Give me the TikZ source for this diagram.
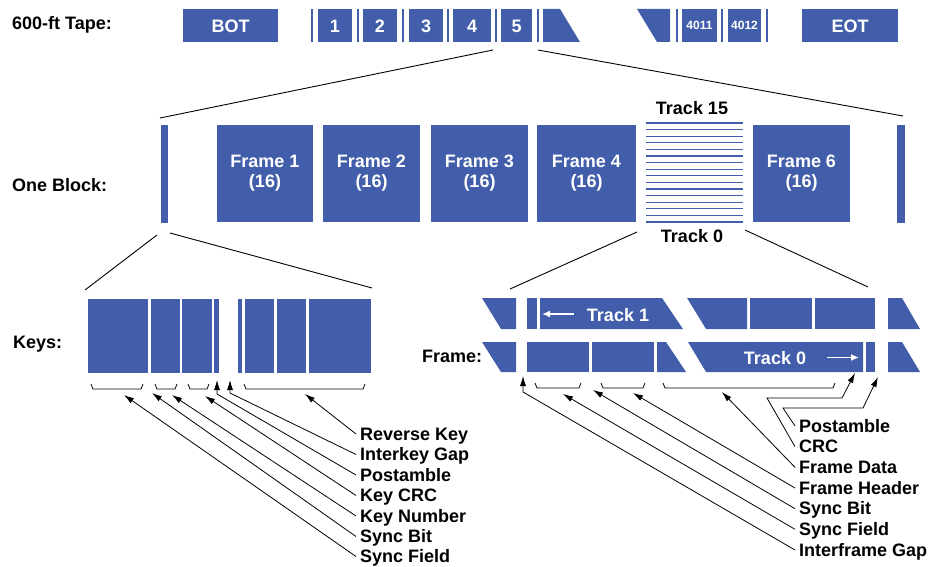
\documentclass[tikz,border=0pt]{standalone}
\usepackage{fontspec}
\setmainfont{Liberation Sans}
\usetikzlibrary{arrows.meta,calc}
\definecolor{tb}{RGB}{66,94,170}
\begin{document}
\begin{tikzpicture}[x=1pt,y=-1pt,
  blk/.style={fill=tb,draw=none},
  vbar/.style={draw=tb,line width=1.4pt},
  lbl/.style={inner sep=0pt,font=\fontsize{18}{21}\selectfont\bfseries,anchor=base west},
  ctxt/.style={inner sep=0pt,font=\fontsize{18}{21}\selectfont\bfseries,anchor=base},
  wtxt/.style={inner sep=0pt,text=white,font=\fontsize{18}{21}\selectfont\bfseries,anchor=base},
  stxt/.style={inner sep=0pt,text=white,font=\fontsize{12}{14}\selectfont\bfseries,anchor=base},
  zoomline/.style={draw=black,line width=0.9pt},
  conn/.style={draw=black,line width=0.8pt,-{Latex[length=10pt,width=6pt]}},
  brk/.style={draw=black,line width=0.8pt},
  trk/.style={draw=tb,line width=1.1pt},
  warr/.style={draw=white,line width=1.8pt,-{Latex[length=8pt,width=7pt]}},
]
\useasboundingbox (0,0) rectangle (931,567);

% ---------------- 600-ft tape row ----------------
\node[lbl] (ltape) at (12,30) {600-ft Tape:};
\fill[blk] (183,9) rectangle (278,42);
\node[wtxt] (tbot) at (230.5,32.5) {BOT};
\draw[vbar] (312,9) -- (312,42);
\fill[blk] (318,9) rectangle (352,42); \node[wtxt] (t1) at (335,32.5) {1};
\draw[vbar] (358,9) -- (358,42);
\fill[blk] (363,9) rectangle (397,42); \node[wtxt] (t2) at (380,32.5) {2};
\draw[vbar] (403,9) -- (403,42);
\fill[blk] (409,9) rectangle (443,42); \node[wtxt] (t3) at (426,32.5) {3};
\draw[vbar] (448,9) -- (448,42);
\fill[blk] (453,9) rectangle (491,42); \node[wtxt] (t4) at (472,32.5) {4};
\draw[vbar] (496,9) -- (496,42);
\fill[blk] (501,9) rectangle (532,42); \node[wtxt] (t5) at (516.5,32.5) {5};
\draw[vbar] (538,9) -- (538,42);
\fill[blk] (543,9) -- (560,9) -- (580,42) -- (543,42) -- cycle;
\fill[blk] (637,9) -- (670,9) -- (670,42) -- (657,42) -- cycle;
\draw[vbar] (677,9) -- (677,42);
\fill[blk] (682,9) rectangle (717,42); \node[stxt] (t4011) at (699.5,30) {4011};
\draw[vbar] (722,9) -- (722,42);
\fill[blk] (728,9) rectangle (761,42); \node[stxt] (t4012) at (744.5,30) {4012};
\draw[vbar] (767,9) -- (767,42);
\fill[blk] (802,9) rectangle (898,42);
\node[wtxt] (teot) at (850,32.5) {EOT};

\coordinate (z1a) at (493,50); \coordinate (z1b) at (160,118);
\coordinate (z2a) at (538,50); \coordinate (z2b) at (903,116);
\draw[zoomline] (z1a) -- (z1b);
\draw[zoomline] (z2a) -- (z2b);

% ---------------- One block row ----------------
\node[lbl] (lblock) at (12,191) {One Block:};
\fill[blk] (161,125) rectangle (168,223);
\foreach \xa/\xb/\n in {217/313/1, 323/420/2, 431/528/3, 537/636/4, 753/850/6}{
  \fill[blk] (\xa,125) rectangle (\xb,222);
  \node[wtxt] at ({(\xa+\xb)/2},167) {Frame \n};
  \node[wtxt] at ({(\xa+\xb)/2},187) {(16)};
}
\fill[blk] (897,125) rectangle (905,223);
\foreach \i in {0,...,15}{
  \draw[trk] (646,{123+\i*6.6}) -- (743,{123+\i*6.6});
}
\node[ctxt] (t15) at (692,115) {Track 15};
\node[ctxt] (t0) at (692,242) {Track 0};

\coordinate (z3a) at (157,235); \coordinate (z3b) at (85,290);
\coordinate (z4a) at (170,233); \coordinate (z4b) at (372,288);
\coordinate (z5a) at (637,232); \coordinate (z5b) at (510,289);
\coordinate (z6a) at (745,230); \coordinate (z6b) at (868,287);
\draw[zoomline] (z3a) -- (z3b);
\draw[zoomline] (z4a) -- (z4b);
\draw[zoomline] (z5a) -- (z5b);
\draw[zoomline] (z6a) -- (z6b);

% ---------------- Keys ----------------
\node[lbl] (lkeys) at (13,348) {Keys:};
\foreach \xa/\xb in {88/148, 151/180, 182/212, 214/219, 238/242, 245/274, 277/306, 309/371}{
  \fill[blk] (\xa,299) rectangle (\xb,373);
}
\foreach \xa/\xb in {91/143, 155/177, 188/209, 244/365}{
  \draw[brk] (\xa,384) -- (\xa+2,389) -- (\xb-2,389) -- (\xb,384);
}
\node[lbl] (kRK) at (360,440) {Reverse Key};
\node[lbl] (kIG) at (360,460.5) {Interkey Gap};
\node[lbl] (kPA) at (360,481) {Postamble};
\node[lbl] (kCRC) at (360,501.5) {Key CRC};
\node[lbl] (kKN) at (360,522) {Key Number};
\node[lbl] (kSB) at (360,542.5) {Sync Bit};
\node[lbl] (kSF) at (360,562.5) {Sync Field};

\coordinate (tkRK) at (305,394);
\coordinate (tkIG) at (230,380);
\coordinate (tkPA) at (217,380);
\coordinate (tkCRC) at (205,396);
\coordinate (tkKN) at (172,395);
\coordinate (tkSB) at (152,393);
\coordinate (tkSF) at (124,395);

\draw[conn] ($(kRK.base west)+(-4,-6)$) -- (tkRK);
\draw[conn] ($(kIG.base west)+(-4,-6)$) -- (230,393) -- (tkIG);
\draw[conn] ($(kPA.base west)+(-4,-6)$) -- (217,394) -- (tkPA);
\draw[conn] ($(kCRC.base west)+(-4,-6)$) -- (tkCRC);
\draw[conn] ($(kKN.base west)+(-4,-6)$) -- (tkKN);
\draw[conn] ($(kSB.base west)+(-4,-6)$) -- (tkSB);
\draw[conn] ($(kSF.base west)+(-4,-6)$) -- (tkSF);

% ---------------- Frame ----------------
\node[lbl] (lframe) at (422,362) {Frame:};
% track 1 row
\fill[blk] (482,298) -- (516,298) -- (516,329) -- (501,329) -- cycle;
\fill[blk] (527,298) rectangle (537,329);
\fill[blk] (540,298) -- (662,298) -- (683,329) -- (540,329) -- cycle;
\fill[blk] (687,298) -- (747,298) -- (747,329) -- (706,329) -- cycle;
\fill[blk] (750,298) rectangle (812,329);
\fill[blk] (815,298) rectangle (875,329);
\fill[blk] (888,298) -- (902,298) -- (920,329) -- (888,329) -- cycle;
\node[wtxt] (ttr1) at (618,321) {Track 1};
\draw[warr] (574,314) -- (542,314);
% track 0 row
\fill[blk] (482,342) -- (516,342) -- (516,372) -- (501,372) -- cycle;
\fill[blk] (527,342) rectangle (589,372);
\fill[blk] (592,342) rectangle (654,372);
\fill[blk] (657,342) -- (666,342) -- (686,372) -- (657,372) -- cycle;
\fill[blk] (688,342) -- (863,342) -- (863,372) -- (706,372) -- cycle;
\fill[blk] (866,342) rectangle (875,372);
\fill[blk] (888,342) -- (902,342) -- (920,372) -- (888,372) -- cycle;
\node[wtxt] (ttr0) at (775,364) {Track 0};
\draw[warr] (827,357.5) -- (859,357.5);

\foreach \xa/\xb in {535/581, 601/645, 663/835}{
  \draw[brk] (\xa,383) -- (\xa+2,388) -- (\xb-2,388) -- (\xb,383);
}

\node[lbl] (fPA) at (799,432) {Postamble};
\node[lbl] (fCRC) at (799,452.7) {CRC};
\node[lbl] (fFD) at (799,473.3) {Frame Data};
\node[lbl] (fFH) at (799,494) {Frame Header};
\node[lbl] (fSB) at (799,514.7) {Sync Bit};
\node[lbl] (fSF) at (799,535.3) {Sync Field};
\node[lbl] (fIG) at (799,556) {Interframe Gap};

\coordinate (tfPA) at (878,377);
\coordinate (tfCRC) at (855,373);
\coordinate (tfFD) at (722,392);
\coordinate (tfFH) at (633,393);
\coordinate (tfSB) at (593,390);
\coordinate (tfSF) at (563,394);
\coordinate (tfIG) at (523,376);

\draw[conn] ($(fPA.base west)+(-4,-6)$) -- (783,408) -- (863,408) -- (tfPA);
\draw[conn] ($(fCRC.base west)+(-4,-6)$) -- (767,398) -- (842,398) -- (tfCRC);
\draw[conn] ($(fFD.base west)+(-4,-6)$) -- (tfFD);
\draw[conn] ($(fFH.base west)+(-4,-6)$) -- (tfFH);
\draw[conn] ($(fSB.base west)+(-4,-6)$) -- (tfSB);
\draw[conn] ($(fSF.base west)+(-4,-6)$) -- (tfSF);
\draw[conn] ($(fIG.base west)+(-4,-6)$) -- (523,392) -- (tfIG);
\end{tikzpicture}
\end{document}
